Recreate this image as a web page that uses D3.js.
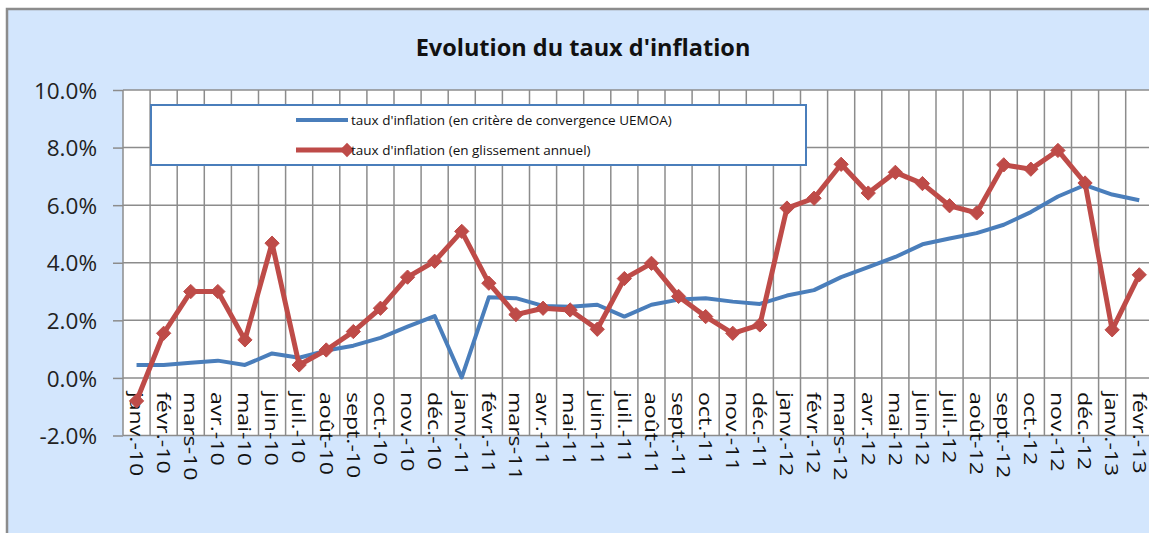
<!DOCTYPE html>
<html>
<head>
<meta charset="utf-8">
<script src="https://cdn.jsdelivr.net/npm/d3@7"></script>
<style>
  body{margin:0;background:#fff;}
  svg{display:block;}
</style>
</head>
<body>
<svg id="svg" width="1149" height="533"></svg>
<script>
// categories, month labels as in the sheet
var months=["janv.-10","févr.-10","mars-10","avr.-10","mai-10","juin-10","juil.-10","août-10","sept.-10","oct.-10","nov.-10","déc.-10",
  "janv.-11","févr.-11","mars-11","avr.-11","mai-11","juin-11","juil.-11","août-11","sept.-11","oct.-11","nov.-11","déc.-11",
  "janv.-12","févr.-12","mars-12","avr.-12","mai-12","juin-12","juil.-12","août-12","sept.-12","oct.-12","nov.-12","déc.-12",
  "janv.-13","févr.-13"];

// taux d'inflation (en critère de convergence UEMOA), in %
var convergence=[0.45,0.45,0.53,0.6,0.45,0.85,0.7,0.95,1.12,1.39,1.78,2.15,
  0.02,2.8,2.77,2.5,2.47,2.54,2.13,2.54,2.72,2.77,2.65,2.57,
  2.86,3.05,3.5,3.85,4.2,4.64,4.84,5.03,5.32,5.76,6.3,6.7,
  6.37,6.17];

// taux d'inflation (en glissement annuel), in %
var glissement=[-0.8,1.55,3.0,3.0,1.32,4.68,0.45,0.97,1.61,2.42,3.5,4.05,
  5.09,3.29,2.2,2.42,2.36,1.69,3.45,3.98,2.83,2.13,1.55,1.84,
  5.9,6.24,7.42,6.42,7.14,6.75,5.98,5.73,7.4,7.25,7.9,6.77,
  1.67,3.58];

var yTicks=[-2,0,2,4,6,8,10];
var seriesNames=["taux d'inflation (en critère de convergence UEMOA)","taux d'inflation (en glissement annuel)"];

var blue="#4a7ebb", red="#be4b48";

function draw(){
  var svg=d3.select("#svg");
  var W=1149,H=533;
  var left=123, top=90, bottom=435.5;
  var step=27.1;

  // chart background and frame
  svg.append("rect").attr("x",7).attr("y",9).attr("width",W).attr("height",H)
    .attr("fill","#d3e6fd").attr("stroke","#8c8c8c").attr("stroke-width",2.5);

  var x=d3.scaleBand().domain(months).range([left,left+step*months.length]);
  var y=d3.scaleLinear().domain([-2,10]).range([bottom,top]);

  // plot area
  svg.append("rect").attr("x",left).attr("y",top).attr("width",W-left).attr("height",bottom-top)
    .attr("fill","#fff");

  // y axis (plain hyphen for negatives, like the sheet)
  var fmt=d3.formatLocale({decimal:".",thousands:",",grouping:[3],currency:["",""],minus:"-"}).format(".1f");
  var yAxis=d3.axisLeft(y).tickValues(yTicks).tickSize(10).tickFormat(function(d){return fmt(d)+"%";});
  var gy=svg.append("g").attr("transform","translate("+left+",0)").call(yAxis);
  gy.select(".domain").remove();
  gy.selectAll(".tick line").attr("stroke","#8c8c8c").attr("stroke-width",1.5);
  gy.selectAll(".tick text").attr("x",-26).attr("dy","0.36em")
    .style("font-family","'Open Sans',sans-serif").style("font-size","22.5px").attr("fill","#222");

  // horizontal gridlines
  svg.append("g").selectAll("line").data(yTicks).enter().append("line")
    .attr("x1",left).attr("x2",W).attr("y1",function(d){return y(d);}).attr("y2",function(d){return y(d);})
    .attr("stroke","#8c8c8c").attr("stroke-width",1.5);

  // vertical gridlines at category boundaries
  var bounds=months.map(function(m){return x(m);}).concat([x(months[months.length-1])+x.bandwidth()]);
  svg.append("g").selectAll("line").data(bounds).enter().append("line")
    .attr("x1",function(d){return d;}).attr("x2",function(d){return d;})
    .attr("y1",top).attr("y2",bottom)
    .attr("stroke","#8c8c8c").attr("stroke-width",1.5);

  // category labels, rotated, hanging under the 0% line (stretched along the text)
  svg.append("g").selectAll("text").data(months).enter().append("text")
    .text(function(d){return d;})
    .attr("transform",function(d){return "translate("+(x(d)+x.bandwidth()/2)+","+(y(0)+14)+") rotate(90) scale(1.25,1)";})
    .attr("dy","0.36em")
    .style("font-family","'Open Sans',sans-serif").style("font-size","18.5px").attr("fill","#111");

  var cx=function(d,i){return x(months[i])+x.bandwidth()/2;};

  // convergence line
  svg.append("path").datum(convergence)
    .attr("d",d3.line().x(cx).y(function(d){return y(d);}))
    .attr("fill","none").attr("stroke",blue).attr("stroke-width",4).attr("stroke-linejoin","round");

  // glissement line with diamond markers
  svg.append("path").datum(glissement)
    .attr("d",d3.line().x(cx).y(function(d){return y(d);}))
    .attr("fill","none").attr("stroke",red).attr("stroke-width",5).attr("stroke-linejoin","round");

  var diamond=d3.symbol().type(d3.symbolDiamond2).size(130);
  svg.append("g").selectAll("path").data(glissement).enter().append("path")
    .attr("d",diamond)
    .attr("transform",function(d,i){return "translate("+cx(d,i)+","+y(d)+")";})
    .attr("fill",red).attr("stroke",red).attr("stroke-width",1);

  // title
  svg.append("text").text("Evolution du taux d'inflation")
    .attr("x",583).attr("y",56).attr("text-anchor","middle")
    .style("font-family","'Open Sans',sans-serif").style("font-size","23.5px").style("font-weight","bold").attr("fill","#111");

  // legend
  var lg=svg.append("g");
  lg.append("rect").attr("x",151).attr("y",105).attr("width",655).attr("height",60)
    .attr("fill","#fff").attr("stroke",blue).attr("stroke-width",2);
  var rows=[{name:seriesNames[0],color:blue,w:4,marker:false,y:120},
            {name:seriesNames[1],color:red,w:5,marker:true,y:150}];
  var row=lg.selectAll("g.row").data(rows).enter().append("g").attr("class","row");
  row.append("line").attr("x1",296).attr("x2",348).attr("y1",function(d){return d.y;}).attr("y2",function(d){return d.y;})
    .attr("stroke",function(d){return d.color;}).attr("stroke-width",function(d){return d.w;});
  row.filter(function(d){return d.marker;}).append("path").attr("d",diamond)
    .attr("transform",function(d){return "translate(347,"+d.y+")";}).attr("fill",red);
  row.append("text").text(function(d){return d.name;})
    .attr("x",351).attr("y",function(d){return d.y;}).attr("dy","0.35em")
    .style("font-family","'Open Sans',sans-serif").style("font-size","13.5px").attr("fill","#111");
}

draw();
</script>
</body>
</html>
